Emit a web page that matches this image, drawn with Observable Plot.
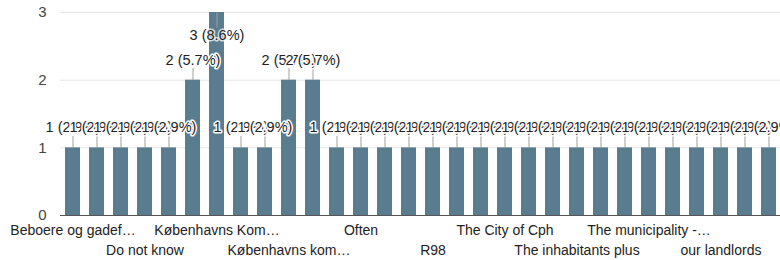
<!DOCTYPE html>
<html>
<head>
<meta charset="utf-8">
<script src="https://cdn.jsdelivr.net/npm/d3@7"></script>
<script src="https://cdn.jsdelivr.net/npm/@observablehq/plot@0.6"></script>
<style>
  html, body { margin: 0; padding: 0; background: #fff; }
</style>
</head>
<body>
<div id="chart"></div>
<script>
// Category tick labels (only every third category label is shown in the reference)
const categoryLabels = [
  "Beboere og gadef…", null, null,
  "Do not know", null, null,
  "Københavns Kom…", null, null,
  "Københavns kom…", null, null,
  "Often", null, null,
  "R98", null, null,
  "The City of Cph", null, null,
  "The inhabitants plus", null, null,
  "The municipality -…", null, null,
  "our landlords", null, null
];
// Response counts per category
const counts = [1,1,1,1,1,2,3,1,1,2,2,1,1,1,1,1,1,1,1,1,1,1,1,1,1,1,1,1,1,1];
const totalResponses = 35;
const yTicks = [0, 1, 2, 3];
const rowOneTicks = [0, 6, 12, 18, 24];
const rowTwoTicks = [3, 9, 15, 21, 27];

const data = counts.map((c, i) => ({
  i,
  count: c,
  label: `${c} (${(c / totalResponses * 100).toFixed(1)}%)`
}));
const maxCount = d3.max(counts);
const fmt = (i) => categoryLabels[i] ?? "";

// custom symbols for the leader lines
const leaderUp = { draw(ctx) { ctx.moveTo(0, 0); ctx.lineTo(0, -12); } };
const leaderDown = { draw(ctx) { ctx.moveTo(0, 0); ctx.lineTo(0, 15); } };

const plot = Plot.plot({
  width: 780,
  height: 260,
  marginLeft: 60,
  marginRight: 0,
  marginTop: 12,
  marginBottom: 45,
  style: { fontFamily: "'Liberation Sans', Arial, sans-serif", fontSize: "14px", color: "#222", background: "#fff" },
  x: { type: "band", domain: d3.range(counts.length), paddingInner: 0.38, paddingOuter: 0.19, axis: null },
  y: { domain: [0, 3], axis: null },
  marks: [
    Plot.gridY(yTicks.filter(t => t > 0), { stroke: "#e6e6e6", strokeOpacity: 1 }),
    Plot.axisY(yTicks, { tickSize: 0, tickPadding: 14, fill: "#444", fontSize: 15, tickFormat: d3.format("d"), label: null }),
    Plot.barY(data, { x: "i", y: "count", fill: "#5a7c8f" }),
    Plot.ruleY([0], { stroke: "#555" }),
    Plot.axisX(rowOneTicks, { tickSize: 0, tickPadding: 10, tickFormat: fmt, fill: "#222", fontSize: 14, label: null }),
    Plot.axisX(rowTwoTicks, { tickSize: 0, tickPadding: 30, tickFormat: fmt, fill: "#222", fontSize: 14, label: null }),
    // leader lines
    Plot.dot(data.filter(d => d.count < maxCount), { x: "i", y: "count", symbol: leaderUp, r: 5, fill: "none", stroke: "#a0a0a0", strokeWidth: 1 }),
    Plot.dot(data.filter(d => d.count === maxCount), { x: "i", y: "count", symbol: leaderDown, r: 5, fill: "none", stroke: "#a0a0a0", strokeWidth: 1 }),
    // data labels
    Plot.text(data.filter(d => d.count < maxCount), { x: "i", y: "count", text: "label", dy: -20, fontSize: 14.5, fill: "#222", stroke: "#fff", strokeWidth: 3 }),
    Plot.text(data.filter(d => d.count === maxCount), { x: "i", y: "count", text: "label", dy: 23, fontSize: 14.5, fill: "#222", stroke: "#fff", strokeWidth: 3, strokeOpacity: 0.75 })
  ]
});
document.getElementById("chart").appendChild(plot);
</script>
</body>
</html>
